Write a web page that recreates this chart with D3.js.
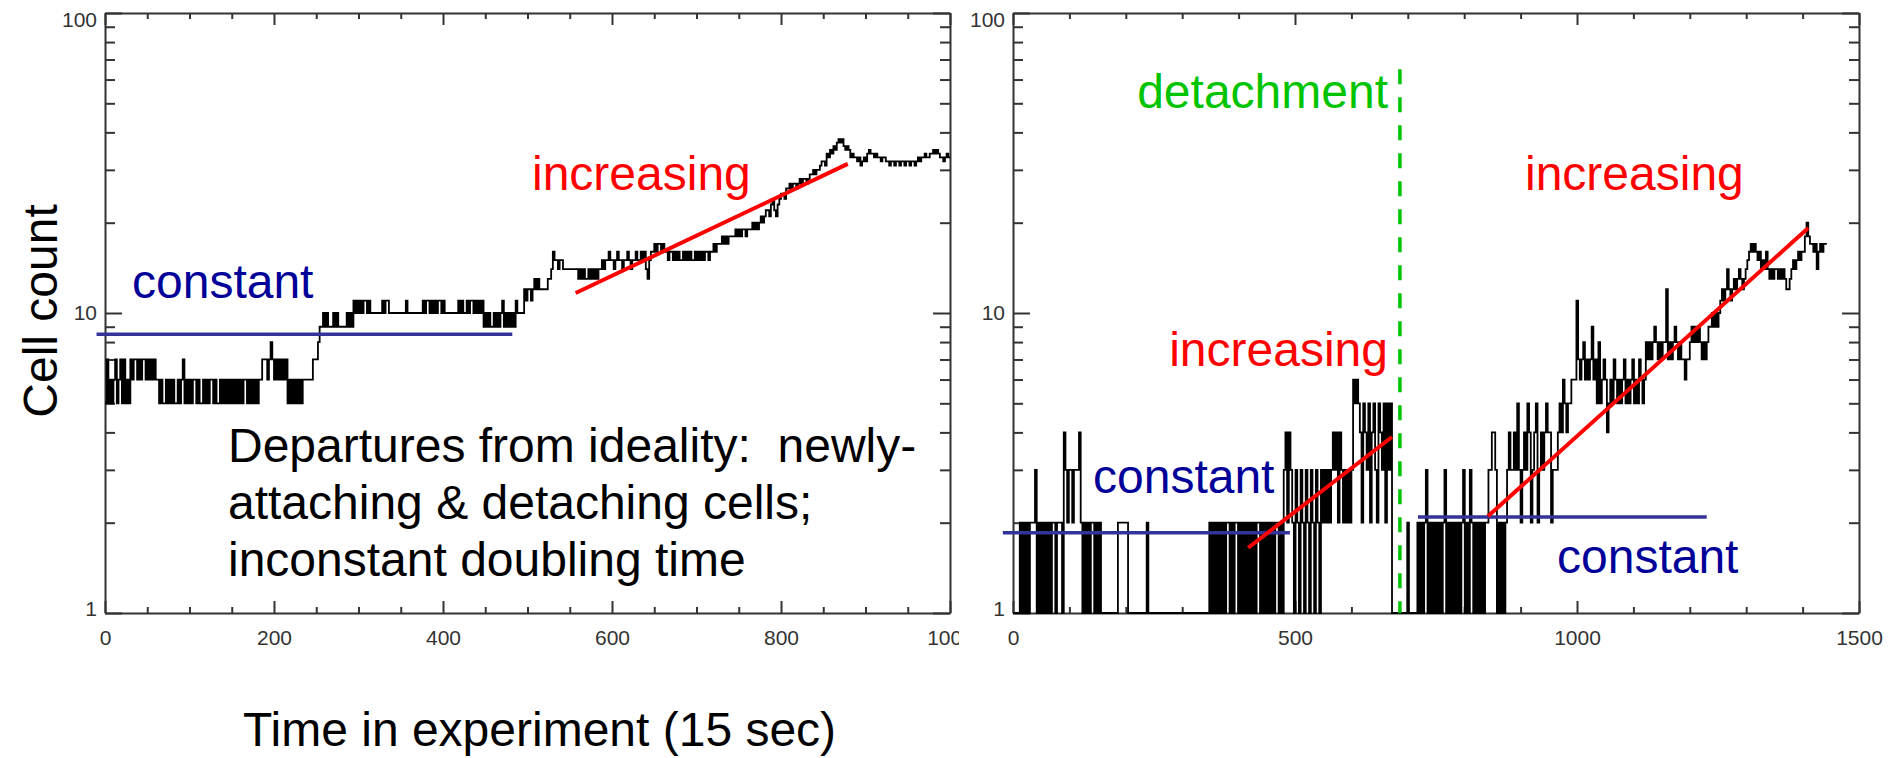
<!DOCTYPE html>
<html lang="en">
<head>
<meta charset="UTF-8" />
<title>Cell count vs time</title>
<script src="https://d3js.org/d3.v7.min.js"></script>
<style>
  html, body { margin: 0; padding: 0; background: #fff; }
  svg { display: block; font-family: "Liberation Sans", Arial, sans-serif; }
  .axis path, .axis line { stroke: #333; stroke-width: 2; }
  .axis text { font-size: 21px; fill: #333; font-family: "Liberation Sans", Arial, sans-serif; }
  .big { font-size: 48px; white-space: pre; }
</style>
</head>
<body>
<svg width="1893" height="758"></svg>
<script>
  // ---- data ----
  // left panel: cell count every 2 time units, t = 0..998
  const leftStep = 2;
  const leftCounts = [
    5,7,5,6,5,6,7,5,6,7,5,7,5,6,5,7,6,7,7,6,7,6,7,7,6,
    7,6,7,6,7,6,6,5,6,5,5,6,5,6,5,6,5,5,6,5,6,7,5,6,5,
    6,5,6,6,5,6,5,5,6,5,6,5,6,6,5,6,5,5,6,5,6,5,6,5,6,
    5,6,5,6,5,6,5,6,6,5,6,5,6,5,6,5,6,6,7,7,7,6,7,8,7,
    6,7,6,7,6,7,6,7,5,6,5,6,5,6,5,6,5,6,6,6,6,6,6,7,7,
    7,8,9,9,10,9,10,9,9,9,10,9,10,9,9,9,9,9,10,9,10,9,11,10,11,
    10,11,10,11,11,10,11,10,10,10,10,10,10,10,11,10,11,11,10,10,10,10,10,10,10,
    10,10,10,11,10,10,10,10,10,10,10,10,10,11,10,11,11,10,11,10,11,10,11,11,10,
    11,10,10,10,10,10,10,10,10,11,10,11,10,10,11,10,11,11,10,11,10,11,10,11,9,
    10,9,10,9,9,10,9,10,9,10,11,9,10,9,10,9,10,9,11,10,10,10,10,12,11,
    12,12,11,12,13,12,13,12,12,12,12,12,13,13,14,16,15,15,14,15,15,14,14,14,14,
    14,14,14,14,14,13,14,13,14,13,13,14,13,14,13,14,13,14,14,15,14,15,15,16,15,
    15,14,15,16,15,15,14,15,15,16,15,14,15,15,16,15,15,16,15,16,14,13,15,16,16,
    17,16,17,17,16,17,16,16,15,16,16,15,16,15,16,15,15,16,15,16,15,16,15,15,16,
    15,16,15,16,15,16,16,15,16,16,17,16,17,17,17,18,17,18,17,18,18,18,18,19,18,
    19,18,19,19,18,19,19,19,20,19,20,19,20,21,20,21,22,22,21,23,24,22,21,23,24,
    25,25,24,26,26,27,26,27,27,26,27,28,27,28,28,27,28,29,29,30,29,30,30,31,32,
    32,31,34,33,35,34,36,35,37,38,37,38,36,35,36,35,33,34,33,33,32,33,31,32,33,
    32,34,35,34,34,33,34,33,33,32,33,33,32,32,31,32,32,31,32,32,31,32,32,31,32,
    32,31,32,32,31,32,33,32,33,33,34,33,33,34,34,35,34,35,34,33,33,32,33,34,33
  ];

  // right panel: cell count every 3 time units, t = 0..1440
  const rightStep = 3;
  const rightCounts = [
    1,1,1,1,2,1,2,1,2,1,2,2,2,3,1,2,1,2,1,2,
    1,2,1,2,2,1,2,2,2,1,4,3,2,3,3,2,3,3,3,4,
    2,1,2,1,2,1,2,2,1,2,1,2,1,1,1,1,1,1,1,1,
    1,1,2,2,2,2,2,2,1,1,1,1,1,1,1,1,1,1,1,2,
    1,1,1,1,1,1,1,1,1,1,1,1,1,1,1,1,1,1,1,1,
    1,1,1,1,1,1,1,1,1,1,1,1,1,1,1,1,2,1,2,1,
    2,1,2,1,2,1,2,2,1,2,1,2,2,1,2,1,2,1,2,1,
    2,1,2,1,2,2,1,2,1,2,1,2,1,2,1,2,2,1,2,1,
    3,4,2,4,3,2,1,3,2,1,3,2,1,3,2,1,3,2,1,3,
    2,1,3,2,3,2,3,2,3,4,3,4,2,4,3,2,3,2,3,2,
    3,6,5,6,5,4,2,5,4,3,5,2,4,5,3,2,5,4,3,5,
    2,5,3,5,1,1,1,1,1,1,1,1,1,2,1,1,1,1,1,2,
    1,2,1,2,3,1,2,1,2,1,2,1,2,1,2,3,1,2,1,2,
    1,2,1,2,1,2,3,1,2,1,3,2,1,2,1,2,1,2,1,2,
    2,3,3,4,4,3,1,2,1,2,1,2,3,4,3,3,4,3,5,3,
    2,3,4,3,5,4,2,3,4,5,2,3,4,3,4,5,4,4,2,3,
    3,3,4,5,4,6,5,4,5,5,6,6,6,11,7,6,7,8,6,7,
    6,7,9,6,7,5,8,5,6,7,6,4,5,6,5,7,6,5,6,5,
    6,7,5,6,5,6,7,5,6,5,7,6,5,6,8,7,8,7,8,9,
    8,7,8,7,8,8,12,7,8,7,8,9,8,7,8,7,7,6,7,7,
    8,9,8,9,8,9,8,7,8,7,8,9,9,10,9,10,9,10,11,12,
    11,12,14,12,11,12,13,12,13,14,13,12,13,14,15,16,17,16,17,16,
    15,16,14,15,14,16,14,13,14,13,14,14,13,14,13,14,13,12,12,13,
    14,15,14,15,16,15,16,16,18,20,18,17,17,16,17,14,16,17,16,17,
    17
  ];

  // axis ticks
  const leftMajor = [0, 200, 400, 600, 800, 1000];
  const leftMinor = [50, 100, 150, 250, 300, 350, 450, 500, 550, 650, 700, 750, 850, 900, 950];
  const rightMajor = [0, 500, 1000, 1500];
  const rightMinor = [100, 200, 300, 400, 600, 700, 800, 900, 1100, 1200, 1300, 1400];
  const yMajor = [1, 10, 100];
  const yMinor = [2, 3, 4, 5, 6, 7, 8, 9, 20, 30, 40, 50, 60, 70, 80, 90];

  // guide lines drawn on top: [t0, count0, t1, count1]
  const leftConstant = [-10, 8.5, 482, 8.5];
  const leftIncreasing = [557, 11.66, 879, 31.4];
  const rightConstant1 = [-18, 1.85, 491, 1.85];
  const rightIncreasing1 = [417, 1.65, 672, 3.86];
  const rightConstant2 = [718, 2.09, 1230, 2.09];
  const rightIncreasing2 = [842, 2.1, 1410, 19.2];
  const detachment = [686, 65, 686, 1];

  // ---- chart ----
  const svg = d3.select("svg");
  const y = d3.scaleLog().domain([1, 100]).range([613, 13]);
  const xL = d3.scaleLinear().domain([0, 1000]).range([105, 950]);
  const xR = d3.scaleLinear().domain([0, 1500]).range([1013, 1859]);

  svg.append("defs").append("clipPath").attr("id", "leftLabelClip")
    .append("rect").attr("x", -50).attr("y", -20).attr("width", 1009).attr("height", 80);

  function stripDomain(g) { g.select(".domain").remove(); }

  function drawFrame(x, major, minor, clipLabels) {
    const g = svg.append("g");
    const [x0, x1] = x.range();
    const fmt = d3.format("d");

    const bottom = g.append("g").attr("class", "axis").attr("transform", `translate(0,${y(1)})`)
      .call(d3.axisBottom(x).tickValues(major).tickSize(-12).tickSizeOuter(0).tickPadding(17).tickFormat(fmt));
    if (clipLabels) bottom.attr("clip-path", "url(#leftLabelClip)");
    g.append("g").attr("class", "axis").attr("transform", `translate(0,${y(1)})`)
      .call(d3.axisBottom(x).tickValues(minor).tickSize(-6).tickFormat("")).call(stripDomain);

    g.append("g").attr("class", "axis").attr("transform", `translate(0,${y(100)})`)
      .call(d3.axisTop(x).tickValues(major).tickSize(-12).tickSizeOuter(0).tickFormat(""));
    g.append("g").attr("class", "axis").attr("transform", `translate(0,${y(100)})`)
      .call(d3.axisTop(x).tickValues(minor).tickSize(-6).tickFormat("")).call(stripDomain);

    const left = g.append("g").attr("class", "axis").attr("transform", `translate(${x0},0)`)
      .call(d3.axisLeft(y).tickValues(yMajor).tickSize(-17).tickSizeOuter(0).tickPadding(8).tickFormat(fmt));
    // the top label sits a little below its tick, as in the original plot
    left.selectAll(".tick text").filter(d => d === 100).attr("dy", "0.65em");
    left.selectAll(".tick text").filter(d => d === 1).attr("dy", "0.1em");
    g.append("g").attr("class", "axis").attr("transform", `translate(${x0},0)`)
      .call(d3.axisLeft(y).tickValues(yMinor).tickSize(-10).tickFormat("")).call(stripDomain);

    g.append("g").attr("class", "axis").attr("transform", `translate(${x1},0)`)
      .call(d3.axisRight(y).tickValues(yMajor).tickSize(-17).tickSizeOuter(0).tickFormat(""));
    g.append("g").attr("class", "axis").attr("transform", `translate(${x1},0)`)
      .call(d3.axisRight(y).tickValues(yMinor).tickSize(-10).tickFormat("")).call(stripDomain);
  }

  function drawTrace(x, counts, step) {
    const pts = counts.map((c, i) => [i * step, c]);
    pts.push([counts.length * step, counts[counts.length - 1]]);
    const line = d3.line().x(d => x(d[0])).y(d => y(d[1])).curve(d3.curveStepAfter);
    svg.append("path").datum(pts)
      .attr("d", line).attr("fill", "none")
      .attr("stroke", "#000").attr("stroke-width", 1.8);
  }

  function guide(x, seg, color, width, dash) {
    const l = svg.append("line")
      .attr("x1", x(seg[0])).attr("y1", y(seg[1]))
      .attr("x2", x(seg[2])).attr("y2", y(seg[3]))
      .attr("stroke", color).attr("stroke-width", width);
    if (dash) l.attr("stroke-dasharray", dash);
  }

  function label(txt, xp, yp, color, anchor) {
    svg.append("text").attr("class", "big")
      .attr("x", xp).attr("y", yp)
      .attr("fill", color).attr("text-anchor", anchor || "start")
      .text(txt);
  }

  drawFrame(xL, leftMajor, leftMinor, true);
  drawFrame(xR, rightMajor, rightMinor, false);
  drawTrace(xL, leftCounts, leftStep);
  drawTrace(xR, rightCounts, rightStep);

  const navy = "#333399", red = "#ff0000", green = "#00c400";
  guide(xL, leftConstant, navy, 3.5);
  guide(xL, leftIncreasing, red, 4);
  guide(xR, rightConstant1, navy, 3.5);
  guide(xR, rightIncreasing1, red, 4);
  guide(xR, rightConstant2, navy, 3.5);
  guide(xR, rightIncreasing2, red, 4);
  guide(xR, detachment, green, 3.5, "15,13");

  // texts
  label("constant", 132, 298, "#000099");
  label("increasing", 532, 190, red);
  label("Departures from ideality:  newly-", 228, 462, "#000");
  label("attaching & detaching cells;", 228, 519, "#000");
  label("inconstant doubling time", 228, 576, "#000");
  label("detachment", 1388, 108, green, "end");
  label("increasing", 1388, 366, red, "end");
  label("constant", 1093, 493, "#000099");
  label("increasing", 1525, 190, red);
  label("constant", 1557, 573, "#000099");
  label("Time in experiment (15 sec)", 243, 746, "#000");

  svg.append("text").attr("class", "big")
    .attr("transform", "translate(57,311) rotate(-90)")
    .attr("text-anchor", "middle").attr("fill", "#000")
    .text("Cell count");
</script>
</body>
</html>
